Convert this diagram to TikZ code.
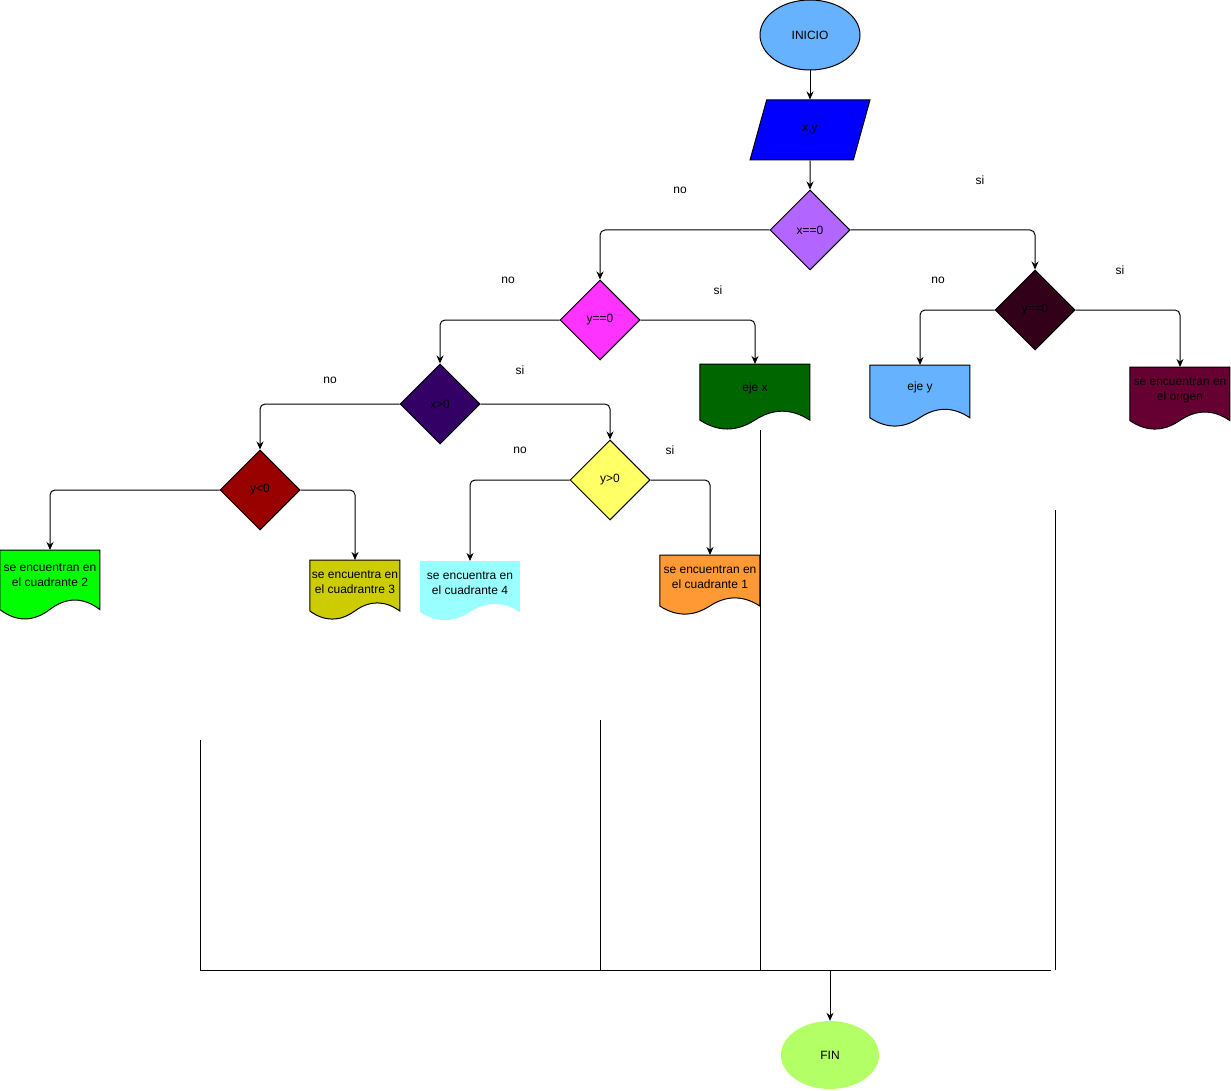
\documentclass[tikz,border=0pt]{standalone}
\usepackage{fontspec}
\setmainfont{Liberation Sans}
\usepackage{xcolor}
\usepackage{tikz}
\usetikzlibrary{arrows.meta,shapes.geometric,backgrounds}
\definecolor{inicio}{HTML}{66B2FF}
\definecolor{entrada}{HTML}{0000FF}
\definecolor{xcero}{HTML}{B266FF}
\definecolor{ycero}{HTML}{FF33FF}
\definecolor{ycerob}{HTML}{33001A}
\definecolor{ejex}{HTML}{006600}
\definecolor{ejey}{HTML}{66B2FF}
\definecolor{origen}{HTML}{660033}
\definecolor{xmay}{HTML}{330066}
\definecolor{ymen}{HTML}{990000}
\definecolor{ymay}{HTML}{FFFF66}
\definecolor{cuaddos}{HTML}{00FF00}
\definecolor{cuadtres}{HTML}{CCCC00}
\definecolor{cuadcuatro}{HTML}{99FFFF}
\definecolor{cuaduno}{HTML}{FF9933}
\definecolor{fin}{HTML}{B3FF66}

% wavy document outline under a named node: node, width, height, style
\newcommand\docshape[4]{%
  \begin{scope}[on background layer,shift={(#1.north west)}]
    \path[#4] (0,0) -- (#2,0) -- (#2,0.85*#3)
      .. controls (0.8333*#2,0.67*#3) and (0.6667*#2,0.67*#3) .. (0.5*#2,0.85*#3)
      .. controls (0.3333*#2,1.03*#3) and (0.1667*#2,1.03*#3) .. (0,0.85*#3) -- cycle;
  \end{scope}}

\begin{document}
\begin{tikzpicture}[
          x=1pt, y=-1pt,
          every node/.style={font=\fontsize{12}{15}\selectfont},
          startend/.style={ellipse,minimum width=100pt,minimum height=70pt,inner sep=0pt},
          iobox/.style={trapezium,trapezium left angle=71.57,trapezium right angle=108.43,
                        trapezium stretches=true,minimum width=120pt,minimum height=60pt,
                        inner sep=0pt,draw,line width=1pt},
          decision/.style={diamond,aspect=1,minimum width=80pt,minimum height=80pt,
                           inner sep=0pt,draw,line width=1pt},
          docnode/.style n args={2}{rectangle,inner sep=0pt,align=center,anchor=north,
                                    minimum width=#1pt,minimum height=0.72*#2pt},
          docline/.style={draw,line width=1pt},
          flow/.style={-{Stealth[length=8pt,width=7pt]},line width=1pt,rounded corners=5pt},
          bus/.style={line width=1pt},
      ]
        \useasboundingbox (0,0) rectangle (1231,1091);

        \node[startend,fill=inicio,draw,line width=1pt] (inicio) at (810,35) {INICIO};
        \node[iobox,fill=entrada] (xy) at (810,130) {x,y};
        \node[decision,fill=xcero] (xcero) at (810,230) {x==0};
        \node[decision,fill=ycero] (ycero) at (600,320) {y==0};
        \node[decision,fill=ycerob] (ycerob) at (1035,310) {y==0};
        \node[decision,fill=xmay] (xmay) at (440,404) {x>0};
        \node[decision,fill=ymen] (ymen) at (260,490) {y<0};
        \node[decision,fill=ymay] (ymay) at (610,480) {y>0};

        \node[docnode={110}{66}] (ejex) at (755,364) {eje x};
        \node[docnode={100}{62}] (ejey) at (920,365) {eje y};
        \node[docnode={100}{63}] (origen) at (1180,367) {se encuentran en\\el origen};
        \node[docnode={100}{70}] (cuad2) at (50,550) {se encuentran en\\el cuadrante 2};
        \node[docnode={90}{60}] (cuad3) at (355,560) {se encuentra en\\el cuadrantre 3};
        \node[docnode={100}{60}] (cuad4) at (470,561) {se encuentra en\\el cuadrante 4};
        \node[docnode={100}{60}] (cuad1) at (710,555) {se encuentran en\\el cuadrante 1};
        \docshape{ejex}{110}{66}{docline,fill=ejex}
        \docshape{ejey}{100}{62}{docline,fill=ejey}
        \docshape{origen}{100}{63}{docline,fill=origen}
        \docshape{cuad2}{100}{70}{docline,fill=cuaddos}
        \docshape{cuad3}{90}{60}{docline,fill=cuadtres}
        \docshape{cuad4}{100}{60}{fill=cuadcuatro}
        \docshape{cuad1}{100}{60}{docline,fill=cuaduno}

        \node[startend,fill=fin,minimum width=98pt,minimum height=68pt] (fin) at (830,1055) {FIN};

        \draw[flow] (inicio) -- (xy);
        \draw[flow] (xy) -- (xcero);
        \draw[flow] (xcero.west) -| (ycero.north);
        \draw[flow] (xcero.east) -| (ycerob.north);
        \draw[flow] (ycero.west) -| (xmay.north);
        \draw[flow] (ycero.east) -| (ejex.north);
        \draw[flow] (ycerob.west) -| (ejey.north);
        \draw[flow] (ycerob.east) -| (origen.north);
        \draw[flow] (xmay.west) -| (ymen.north);
        \draw[flow] (xmay.east) -| (ymay.north);
        \draw[flow] (ymen.west) -| (cuad2.north);
        \draw[flow] (ymen.east) -| (cuad3.north);
        \draw[flow] (ymay.west) -| (cuad4.north);
        \draw[flow] (ymay.east) -| (cuad1.north);

        \node (lno1) at (680,190) {no};
        \node (lsi1) at (980,180) {si};
        \node (lno2) at (508,280) {no};
        \node (lsi2) at (718,290) {si};
        \node (lno3) at (938,280) {no};
        \node (lsi3) at (1120,270) {si};
        \node (lno4) at (330,380) {no};
        \node (lsi4) at (520,370) {si};
        \node (lno5) at (520,450) {no};
        \node (lsi5) at (670,450) {si};

        \coordinate (t1) at (200,740);
        \coordinate (t2) at (600,720);
        \coordinate (t3) at (760,430);
        \coordinate (t4) at (1055,510);
        \coordinate (jr) at (1051,970);
        \coordinate (jf) at (830,970);
        \draw[bus] (t1) |- (jr);
        \draw[bus] (t2) -- (t2 |- jr);
        \draw[bus] (t3) -- (t3 |- jr);
        \draw[bus] (t4) -- (t4 |- jr);
        \draw[flow] (jf) -- (fin);
      \end{tikzpicture}
\end{document}
